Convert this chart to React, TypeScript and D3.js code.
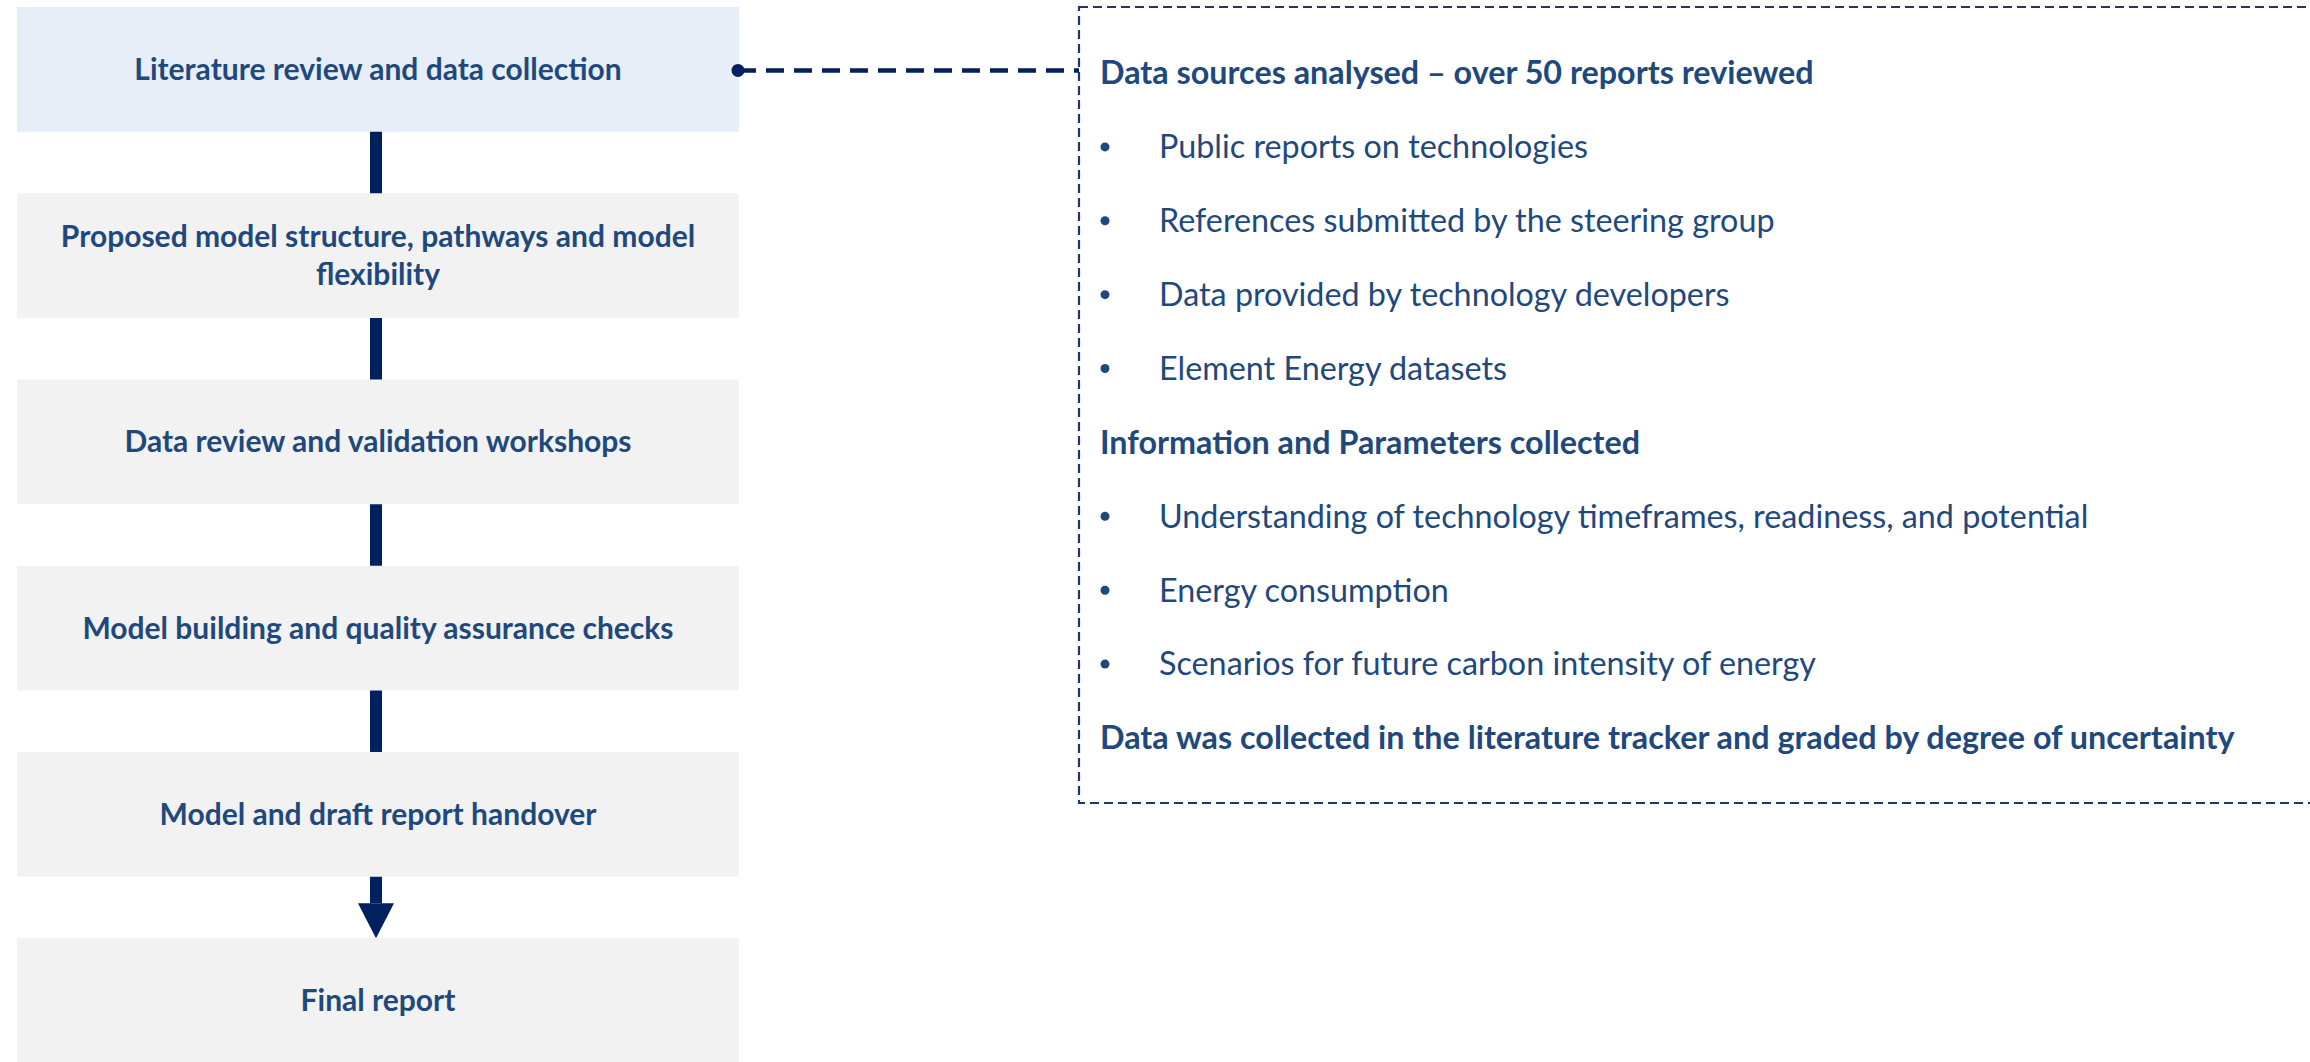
import React, { useEffect, useRef } from "react";
import * as d3 from "d3";

const W = 2310;
const H = 1062;

// process steps, left column (line breaks as in the slide)
const steps = [
    ["Literature review and data collection"],
    ["Proposed model structure, pathways and model", "flexibility"],
    ["Data review and validation workshops"],
    ["Model building and quality assurance checks"],
    ["Model and draft report handover"],
    ["Final report"]
];
const highlighted = [true, false, false, false, false, false];

// details panel on the right
const detailText = [
    "Data sources analysed \u2013 over 50 reports reviewed",
    "Public reports on technologies",
    "References submitted by the steering group",
    "Data provided by technology developers",
    "Element Energy datasets",
    "Information and Parameters collected",
    "Understanding of technology timeframes, readiness, and potential",
    "Energy consumption",
    "Scenarios for future carbon intensity of energy",
    "Data was collected in the literature tracker and graded by degree of uncertainty"
];
const detailIsHeading = [true, false, false, false, false, true, false, false, false, true];

const NAVY = "#002060";
const TEXT = "#1F497D";
const FONT = "Lato, 'Open Sans', sans-serif";

export default function App() {
    const ref: any = useRef(null);

    useEffect(() => {
        document.body.style.margin = "0";
        const svg = d3.select(ref.current);
        svg.selectAll("*").remove();

        const boxX0 = 17;
        const boxX1 = 739;
        const cx = (boxX0 + boxX1) / 2;
        const lineX = 376;

        // vertical layout of the step boxes
        const y = d3
            .scaleBand<number>()
            .domain(d3.range(steps.length))
            .range([7, H + 1])
            .paddingInner(0.33)
            .paddingOuter(0);

        // connectors between boxes
        const conn = svg.append("g");
        d3.range(steps.length - 1).forEach(i => {
            const y0 = (y(i) as number) + y.bandwidth();
            const y1 = y(i + 1) as number;
            if (i < steps.length - 2) {
                conn.append("rect")
                    .attr("x", lineX - 6)
                    .attr("y", y0 - 1)
                    .attr("width", 12)
                    .attr("height", y1 - y0 + 2)
                    .attr("fill", NAVY);
            } else {
                const headH = 35;
                conn.append("rect")
                    .attr("x", lineX - 6)
                    .attr("y", y0 - 1)
                    .attr("width", 12)
                    .attr("height", y1 - y0 - headH + 1)
                    .attr("fill", NAVY);
                conn.append("path")
                    .attr("d", `M${lineX - 18},${y1 - headH}L${lineX + 18},${y1 - headH}L${lineX},${y1}Z`)
                    .attr("fill", NAVY);
            }
        });

        // boxes
        const box = svg.append("g")
            .selectAll("g")
            .data(steps)
            .join("g")
            .attr("transform", (d, i) => `translate(0,${y(i)})`);

        box.append("rect")
            .attr("x", boxX0)
            .attr("y", 0)
            .attr("width", boxX1 - boxX0)
            .attr("height", y.bandwidth())
            .attr("fill", (d, i) => (highlighted[i] ? "#E7EEF8" : "#F2F2F2"));

        box.append("text")
            .attr("text-anchor", "middle")
            .attr("font-family", FONT)
            .attr("font-weight", 700)
            .attr("font-size", 30)
            .attr("fill", TEXT)
            .each(function (d) {
                const t = d3.select(this);
                const lh = 38;
                const start = y.bandwidth() / 2 - ((d.length - 1) * lh) / 2;
                d.forEach((line, j) => {
                    t.append("tspan")
                        .attr("x", cx)
                        .attr("y", start + j * lh)
                        .attr("dy", "0.35em")
                        .text(line);
                });
            });

        // details panel
        const panelX = 1079;
        const panelY0 = 7;
        const panelY1 = 803;
        svg.append("rect")
            .attr("x", panelX)
            .attr("y", panelY0)
            .attr("width", W + 40 - panelX)
            .attr("height", panelY1 - panelY0)
            .attr("fill", "none")
            .attr("stroke", "#203864")
            .attr("stroke-width", 2.2)
            .attr("stroke-dasharray", "9,5");

        const ly = d3
            .scalePoint<number>()
            .domain(d3.range(detailText.length))
            .range([73, 738]);

        // dashed callout from the first step
        const firstMid = (y(0) as number) + y.bandwidth() / 2 + 1;
        svg.append("line")
            .attr("x1", boxX1 - 1)
            .attr("x2", panelX)
            .attr("y1", firstMid)
            .attr("y2", firstMid)
            .attr("stroke", NAVY)
            .attr("stroke-width", 4.5)
            .attr("stroke-dasharray", "18,10");
        svg.append("circle")
            .attr("cx", boxX1 - 1)
            .attr("cy", firstMid)
            .attr("r", 6.5)
            .attr("fill", NAVY);

        const rows = svg.append("g")
            .selectAll("g")
            .data(detailText)
            .join("g")
            .attr("transform", (d, i) => `translate(0,${ly(i)})`);

        rows.filter((d, i) => !detailIsHeading[i])
            .append("circle")
            .attr("cx", 1105)
            .attr("cy", 0)
            .attr("r", 4.5)
            .attr("fill", TEXT);

        rows.append("text")
            .attr("x", (d, i) => (detailIsHeading[i] ? 1100 : 1159))
            .attr("dy", "0.35em")
            .attr("font-family", FONT)
            .attr("font-weight", (d, i) => (detailIsHeading[i] ? 700 : 400))
            .attr("font-size", 32.3)
            .attr("fill", TEXT)
            .text(d => d);
    }, []);

    return (
        <svg ref={ref} width={W} height={H} style={{ display: "block", background: "#fff" }}></svg>
    );
}
